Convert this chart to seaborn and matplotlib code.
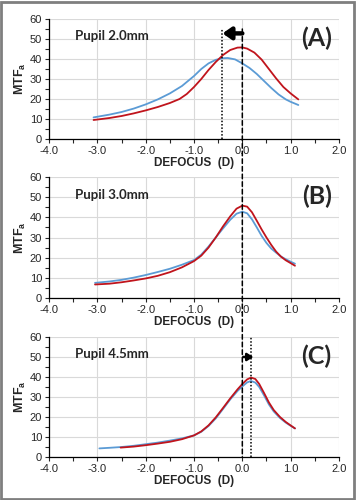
import numpy as np
import pandas as pd
import seaborn as sns
import matplotlib.pyplot as plt
from matplotlib.patches import ConnectionPatch, Rectangle
from matplotlib.ticker import MultipleLocator, FormatStrFormatter

# =========================
# DATA
# =========================
pupils = ["Pupil 2.0mm", "Pupil 3.0mm", "Pupil 4.5mm"]
panel_tags = ["(A)", "(B)", "(C)"]

a_red_x = [-3.08, -2.75, -2.5, -2.25, -2.0, -1.75, -1.5, -1.3, -1.15, -1.0, -0.85, -0.7, -0.55, -0.4,
           -0.25, -0.1, 0.0, 0.1, 0.25, 0.4, 0.55, 0.7, 0.85, 1.0, 1.16]
a_red_y = [9.5, 10.5, 11.5, 12.8, 14.3, 16.0, 18.0, 20.0, 22.5, 26.0, 30.0, 34.5, 38.5, 42.0,
           44.5, 45.7, 45.8, 45.2, 43.2, 39.7, 35.0, 30.3, 26.0, 22.8, 19.8]
a_blue_x = [-3.08, -2.75, -2.5, -2.25, -2.0, -1.75, -1.5, -1.25, -1.0, -0.85, -0.7, -0.55, -0.4, -0.3,
            -0.15, 0.0, 0.15, 0.3, 0.45, 0.6, 0.75, 0.9, 1.0, 1.16]
a_blue_y = [10.8, 12.2, 13.5, 15.2, 17.3, 19.8, 22.8, 26.5, 31.5, 35.0, 37.8, 39.6, 40.4, 40.5,
            39.8, 37.8, 35.5, 32.5, 29.0, 25.5, 22.3, 19.8, 18.6, 17.0]

b_red_x = [-3.05, -2.75, -2.5, -2.25, -2.0, -1.75, -1.5, -1.25, -1.0, -0.85, -0.7, -0.55, -0.4, -0.25,
           -0.12, 0.0, 0.1, 0.2, 0.3, 0.4, 0.5, 0.6, 0.7, 0.8, 0.9, 1.0, 1.09]
b_red_y = [6.7, 7.1, 7.8, 8.7, 9.7, 11.0, 12.8, 15.2, 18.3, 21.0, 25.0, 30.0, 35.5, 40.5,
           44.3, 45.8, 45.3, 42.5, 38.3, 34.0, 30.0, 26.3, 23.0, 20.5, 18.7, 17.3, 16.0]
b_blue_x = [-3.05, -2.75, -2.5, -2.25, -2.0, -1.75, -1.5, -1.25, -1.0, -0.85, -0.7, -0.55, -0.4, -0.25,
            -0.12, 0.0, 0.1, 0.2, 0.3, 0.4, 0.5, 0.6, 0.7, 0.8, 0.9, 1.0, 1.09]
b_blue_y = [7.5, 8.2, 9.0, 10.1, 11.4, 12.9, 14.5, 16.5, 18.8, 21.5, 25.5, 30.0, 34.5, 38.8,
            41.8, 42.8, 42.0, 39.0, 35.0, 30.8, 27.3, 24.5, 22.5, 20.6, 19.2, 18.0, 17.0]

c_red_x = [-2.52, -2.25, -2.0, -1.75, -1.5, -1.25, -1.0, -0.85, -0.7, -0.55, -0.4, -0.25, -0.1, 0.0,
           0.1, 0.18, 0.27, 0.35, 0.45, 0.55, 0.65, 0.78, 0.9, 1.0, 1.09]
c_red_y = [4.7, 5.2, 5.9, 6.7, 7.6, 8.9, 10.8, 12.8, 15.8, 19.8, 24.5, 29.3, 33.8, 36.5,
           38.8, 39.7, 39.0, 36.5, 32.0, 27.3, 23.5, 20.0, 17.5, 15.8, 14.3]
c_blue_x = [-2.96, -2.75, -2.5, -2.25, -2.0, -1.75, -1.5, -1.25, -1.0, -0.85, -0.7, -0.55, -0.4, -0.25,
            -0.1, 0.0, 0.1, 0.18, 0.27, 0.35, 0.45, 0.55, 0.65, 0.78, 0.9, 1.0, 1.09]
c_blue_y = [4.3, 4.6, 5.0, 5.6, 6.4, 7.2, 8.2, 9.3, 10.8, 12.6, 15.5, 19.3, 24.0, 28.8,
            33.0, 35.3, 37.3, 38.0, 37.2, 35.0, 30.8, 26.3, 22.8, 19.5, 17.2, 15.6, 14.3]

# shifted focus markers (dotted lines)
shift_a = -0.43
shift_c = 0.19

curves = [
    (a_red_x, a_red_y, a_blue_x, a_blue_y),
    (b_red_x, b_red_y, b_blue_x, b_blue_y),
    (c_red_x, c_red_y, c_blue_x, c_blue_y),
]

# =========================
# VISUAL SETTINGS
# =========================
sns.set_style("white")
plt.rcParams["font.family"] = ["Liberation Sans", "DejaVu Sans"]
plt.rcParams["axes.unicode_minus"] = False
plt.rcParams["mathtext.default"] = "regular"

red = "#C0141C"
blue = "#5B9BD5"

fig = plt.figure(figsize=(3.56, 5.0), dpi=100)

# axes boxes [left, bottom, width, height]
boxes = [
    [0.138, 0.722, 0.814, 0.240],
    [0.138, 0.404, 0.814, 0.242],
    [0.138, 0.086, 0.814, 0.240],
]

axes = []
for i, box in enumerate(boxes):
    ax = fig.add_axes(box)
    rx, ry, bx, by = curves[i]
    df = pd.concat([
        pd.DataFrame({"x": bx, "y": by, "s": "blue"}),
        pd.DataFrame({"x": rx, "y": ry, "s": "red"}),
    ], ignore_index=True)
    sns.lineplot(data=df, x="x", y="y", hue="s", palette={"blue": blue, "red": red},
                 hue_order=["blue", "red"], sort=False, estimator=None,
                 linewidth=1.3, legend=False, ax=ax,
                 solid_joinstyle="round", solid_capstyle="round")

    ax.set_xlim(-4, 2)
    ax.set_ylim(0, 60)
    ax.xaxis.set_major_locator(MultipleLocator(1.0))
    ax.xaxis.set_minor_locator(MultipleLocator(0.5))
    ax.yaxis.set_major_locator(MultipleLocator(10))
    ax.yaxis.set_minor_locator(MultipleLocator(5))
    ax.xaxis.set_major_formatter(FormatStrFormatter("%.1f"))
    ax.grid(True, which="major", color="#d9d9d9", linewidth=0.8)
    ax.set_axisbelow(True)
    for s in ["top", "right"]:
        ax.spines[s].set_visible(False)
    for s in ["left", "bottom"]:
        ax.spines[s].set_color("black")
        ax.spines[s].set_linewidth(0.9)
    ax.tick_params(which="both", direction="out", length=3, width=0.8,
                   bottom=True, left=True, labelsize=8, pad=2)

    ax.set_xlabel("DEFOCUS  (D)", fontsize=8.5, fontweight="bold", labelpad=1)
    ax.set_ylabel("MTF$_\\mathregular{a}$", fontsize=9, fontweight="bold", labelpad=1)

    ax.text(0.09, 0.855, pupils[i], transform=ax.transAxes, fontsize=9.5,
            fontweight="bold", family=["Lato", "DejaVu Sans"], va="center")
    ax.text(0.975, 0.84, panel_tags[i], transform=ax.transAxes, fontsize=18,
            fontweight="bold", family=["Lato", "DejaVu Sans"], va="center", ha="right")
    axes.append(ax)

ax_a, ax_b, ax_c = axes

# dotted shifted-focus lines
ax_a.plot([shift_a, shift_a], [0, 55], color="black", linestyle=(0, (1, 1.2)), linewidth=1.1)
ax_c.plot([shift_c, shift_c], [0, 60], color="black", linestyle=(0, (1, 1.2)), linewidth=1.1)

# arrows
ax_a.annotate("", xy=(shift_a + 0.02, 52.8), xytext=(0.0, 52.8),
              arrowprops=dict(arrowstyle="-|>,head_length=0.5,head_width=0.35",
                              color="black", lw=3.2, shrinkA=0, shrinkB=0))
ax_c.annotate("", xy=(shift_c + 0.04, 50), xytext=(0.02, 50),
              arrowprops=dict(arrowstyle="-|>,head_length=0.35,head_width=0.22",
                              color="black", lw=1.8, shrinkA=0, shrinkB=0))

# dashed zero-defocus line running through all three panels
con = ConnectionPatch(xyA=(0.0, 55), coordsA="data", axesA=ax_a,
                      xyB=(0.0, 0), coordsB="data", axesB=ax_c,
                      color="black", linestyle=(0, (3, 2)), linewidth=1.1)
fig.add_artist(con)

# gray frame around the figure
fig.add_artist(Rectangle((0.003, 0.003), 0.992, 0.994, transform=fig.transFigure,
                         fill=False, edgecolor="#7f7f7f", linewidth=2))

plt.savefig("out.png", dpi=100)
